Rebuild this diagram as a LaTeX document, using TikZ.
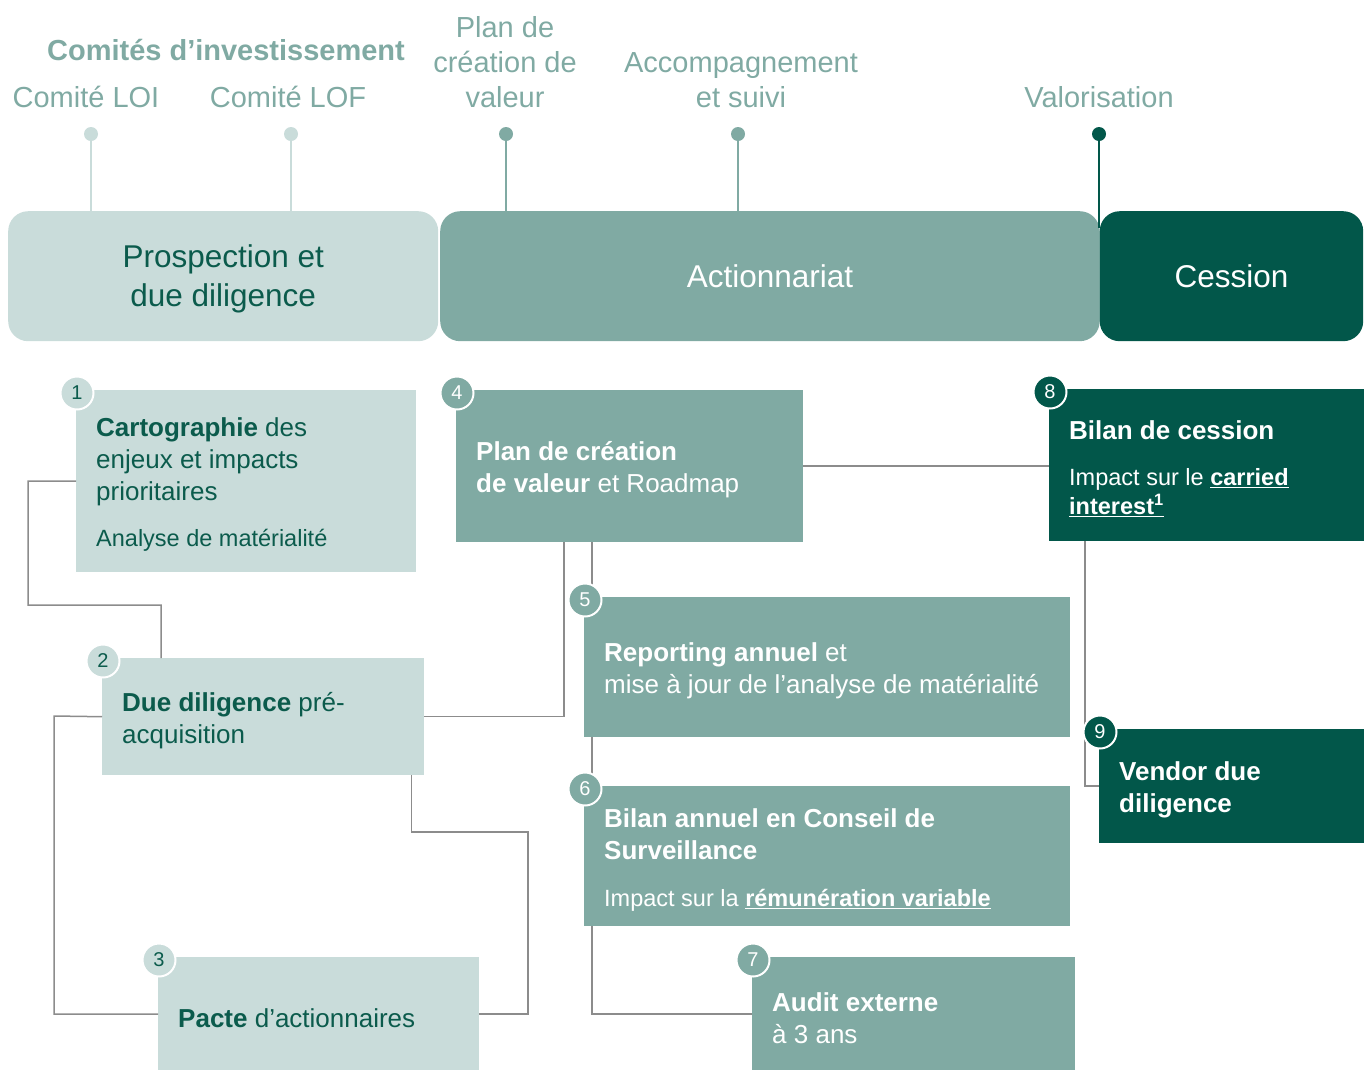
\documentclass[tikz,border=0pt]{standalone}
\usepackage{fontspec}
\setmainfont{Liberation Sans}
\usetikzlibrary{positioning}
\definecolor{light}{HTML}{C9DCDA}
\definecolor{mid}{HTML}{80AAA3}
\definecolor{dark}{HTML}{02574A}
\definecolor{ink}{HTML}{0B5B4C}
\definecolor{wire}{HTML}{8C8C8C}
\newcommand{\fsz}[2]{\fontsize{#1}{#2}\selectfont}
\newcommand{\subtxt}[1]{{\fsz{23.5}{32}#1}}

\begin{document}
\begin{tikzpicture}[x=1pt,y=-1pt,
  phase/.style={anchor=north west,rounded corners=20pt,minimum height=130pt,inner sep=0pt,align=center,font=\fsz{31.5}{39}},
  box/.style={anchor=north west,inner xsep=20pt,inner ysep=0pt,align=flush left,text height=26pt,font=\fsz{26}{32}},
  badge/.style={circle,draw=white,line width=2pt,minimum size=33pt,inner sep=0pt,font=\fsz{20}{20}},
  toplabel/.style={anchor=south,inner sep=0pt,align=center,text=mid,font=\fsz{29}{35}},
  dot/.style={circle,minimum size=14pt,inner sep=0pt},
  pin/.style={line width=2.5pt},
  link/.style={draw=wire,line width=1.5pt}]
\useasboundingbox (0,0) rectangle (1364,1069);
\clip (0,0) rectangle (1364,1069);

\node[toplabel,font=\bfseries\fsz{29}{35}] (comites) at (226,61) {Comités d’investissement};
\node[toplabel] (loi) at (86,108) {Comité LOI};
\node[toplabel] (lof) at (288,108) {Comité LOF};
\node[toplabel] (plan) at (505,108) {Plan de\\création de\\valeur};
\node[toplabel] (accomp) at (741,108) {Accompagnement\\et suivi};
\node[toplabel] (valo) at (1099,108) {Valorisation};

\node[phase,fill=light,text=ink,minimum width=430pt,text height=67pt] (prosp) at (8,211) {Prospection et\\due diligence};
\node[phase,fill=mid,text=white,minimum width=659.5pt] (action) at (440,211) {Actionnariat};
\node[phase,fill=dark,text=white,minimum width=263.5pt] (cession) at (1099.5,211) {Cession};

\foreach \d/\x/\c/\p in {d1/91/light/prosp, d2/291/light/prosp, d3/506/mid/action, d4/738/mid/action}
{
\node[dot,fill=\c] (\d) at (\x,134) {};
\draw[pin,\c] (\d) -- (\d |- \p.north);
}
\node[dot,fill=dark] (d5) at (1099,134) {};
\draw[pin,dark] (d5) -- (d5 |- cession.north) -- ++(0,17);

\node[box,fill=light,text=ink,text width=300pt,minimum height=182pt] (b1) at (76,390)
  {\textbf{Cartographie} des\\enjeux et impacts\\prioritaires\\[14pt]\subtxt{Analyse de matérialité}};
\node[box,fill=light,text=ink,text width=282pt,minimum height=117pt] (b2) at (102,658)
  {\textbf{Due diligence} pré-\\acquisition};
\node[box,fill=light,text=ink,text width=281pt,minimum height=114pt] (b3) at (158,957)
  {\textbf{Pacte} d’actionnaires};
\node[box,fill=mid,text=white,text width=307pt,minimum height=152pt] (b4) at (456,390)
  {\textbf{Plan de création}\\\textbf{de valeur} et Roadmap};
\node[box,fill=mid,text=white,text width=446pt,minimum height=140pt] (b5) at (584,597)
  {\textbf{Reporting annuel} et\\mise à jour de l’analyse de matérialité};
\node[box,fill=mid,text=white,text width=446pt,minimum height=140pt] (b6) at (584,786)
  {\textbf{Bilan annuel en Conseil de}\\\textbf{Surveillance}\\[15pt]\subtxt{Impact sur la \underline{\textbf{rémunération variable}}}};
\node[box,fill=mid,text=white,text width=283pt,minimum height=114pt] (b7) at (752,957)
  {\textbf{Audit externe}\\à 3 ans};
\node[box,fill=dark,text=white,text width=281pt,minimum height=152pt] (b8) at (1049,389)
  {\textbf{Bilan de cession}\\[14pt]\subtxt{Impact sur le \underline{\textbf{carried}}}\\[-3pt]\subtxt{\underline{\textbf{interest}\textsuperscript{\textbf{1}}}}};
\node[box,fill=dark,text=white,text width=231pt,minimum height=114pt] (b9) at (1099,729)
  {\textbf{Vendor due}\\\textbf{diligence}};

\draw[link] (b1.west) -- (28,481) -- (28,605) -| ([xshift=59pt]b2.north west);
\draw[link] (b2.west) -- (54,716) |- (b3.west);
\draw[link] ([xshift=-13pt]b2.south east) |- (528,832) |- (b3.east);
\draw[link] (b2.east) -| ([xshift=108pt]b4.south west);
\draw[link] ([xshift=136pt]b4.south west) -- ([xshift=8pt]b5.north west);
\draw[link] ([xshift=8pt]b5.south west) -- ([xshift=8pt]b6.north west);
\draw[link] ([xshift=8pt]b6.south west) |- (b7.west);
\draw[link] (b4.east) -- (b4.east -| b8.west);
\draw[link] ([xshift=36pt]b8.south west) |- (b9.west);

\foreach \i/\c/\t in {1/light/ink, 2/light/ink, 3/light/ink, 4/mid/white, 5/mid/white, 6/mid/white, 7/mid/white, 8/dark/white, 9/dark/white}
{
\node[badge,fill=\c,text=\t] (n\i) at ([xshift=1pt,yshift=-3pt]b\i.north west) {\i};
}
\end{tikzpicture}
\end{document}
